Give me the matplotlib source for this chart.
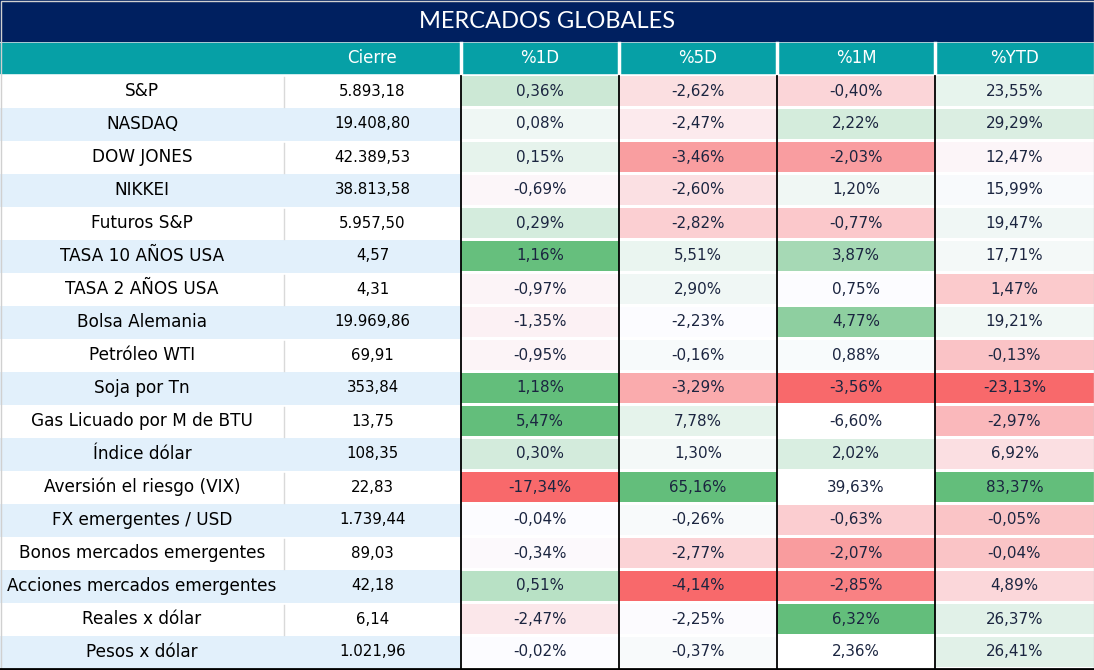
import numpy as np
import matplotlib.pyplot as plt
from matplotlib.patches import Rectangle
from matplotlib.colors import to_rgb

titulo = 'MERCADOS GLOBALES'
columnas = ['Cierre', '%1D', '%5D', '%1M', '%YTD']

nombres = ['S&P', 'NASDAQ', 'DOW JONES', 'NIKKEI', 'Futuros S&P',
           'TASA 10 AÑOS USA', 'TASA 2 AÑOS USA', 'Bolsa Alemania',
           'Petróleo WTI', 'Soja por Tn', 'Gas Licuado por M de BTU',
           'Índice dólar', 'Aversión el riesgo (VIX)', 'FX emergentes / USD',
           'Bonos mercados emergentes', 'Acciones mercados emergentes',
           'Reales x dólar', 'Pesos x dólar']
cierre = [5893.18, 19408.80, 42389.53, 38813.58, 5957.50, 4.57, 4.31,
          19969.86, 69.91, 353.84, 13.75, 108.35, 22.83, 1739.44, 89.03,
          42.18, 6.14, 1021.96]
var_1d = [0.36, 0.08, 0.15, -0.69, 0.29, 1.16, -0.97, -1.35, -0.95, 1.18,
          5.47, 0.30, -17.34, -0.04, -0.34, 0.51, -2.47, -0.02]
var_5d = [-2.62, -2.47, -3.46, -2.60, -2.82, 5.51, 2.90, -2.23, -0.16, -3.29,
          7.78, 1.30, 65.16, -0.26, -2.77, -4.14, -2.25, -0.37]
var_1m = [-0.40, 2.22, -2.03, 1.20, -0.77, 3.87, 0.75, 4.77, 0.88, -3.56,
          -6.60, 2.02, 39.63, -0.63, -2.07, -2.85, 6.32, 2.36]
var_ytd = [23.55, 29.29, 12.47, 15.99, 19.47, 17.71, 1.47, 19.21, -0.13,
           -23.13, -2.97, 6.92, 83.37, -0.05, -0.04, 4.89, 26.37, 26.41]
variaciones = [var_1d, var_5d, var_1m, var_ytd]

# filas que quedaron fuera del rango del formato condicional en cada columna
fuera_de_escala = {0: ['Gas Licuado por M de BTU'],
                   2: ['Gas Licuado por M de BTU', 'Aversión el riesgo (VIX)', 'Pesos x dólar']}
sin_color = {2: ['Gas Licuado por M de BTU', 'Aversión el riesgo (VIX)', 'Pesos x dólar']}

ROJO, BLANCO, VERDE = np.array(to_rgb('#F8696B')), np.array(to_rgb('#FCFCFF')), np.array(to_rgb('#63BE7B'))
AZUL_OSC, TEAL, CELESTE = '#002060', '#06A0A6', '#E2F0FB'


def fmt_num(v, pct=False):
    s = f'{v:,.2f}'.replace(',', 'X').replace('.', ',').replace('X', '.')
    return s + '%' if pct else s


def escala(vals, excl):
    base = [v for n, v in zip(nombres, vals) if n not in excl]
    lo, mid, hi = min(base), np.percentile(base, 50), max(base)
    cols = []
    for v in vals:
        if v >= mid:
            t = min((v - mid) / (hi - mid), 1)
            cols.append(BLANCO + t * (VERDE - BLANCO))
        else:
            t = min((mid - v) / (mid - lo), 1)
            cols.append(BLANCO + t * (ROJO - BLANCO))
    return cols


W, H = 1094, 670
fig = plt.figure(figsize=(W / 100, H / 100), dpi=100)
ax = fig.add_axes([0, 0, 1, 1])
ax.set_xlim(0, W)
ax.set_ylim(H, 0)
ax.axis('off')

FUENTE = 'DejaVu Sans'
bordes = [0, 284, 461, 619, 777, 935, W]
y_tit, h_tit = 0, 41
y_enc, h_enc = 43, 30
y0, paso = 74.5, 33

# titulo
ax.add_patch(Rectangle((0, y_tit), W, h_tit, color=AZUL_OSC))
ax.text(W / 2, y_tit + h_tit / 2 + 1, titulo, color='white', fontsize=17,
        ha='center', va='center', family='Lato')

# encabezado
ax.add_patch(Rectangle((0, y_enc), W, h_enc, color=TEAL))
for j, c in enumerate(columnas):
    xc = (bordes[j + 1] + bordes[j + 2]) / 2
    ax.text(xc, y_enc + h_enc / 2, c, color='white', fontsize=12,
            ha='center', va='center', family=FUENTE)
for x in bordes[2:-1]:
    ax.plot([x, x], [y_enc, y_enc + h_enc], color='white', lw=2.5)

# filas
colores = [escala(v, fuera_de_escala.get(j, [])) for j, v in enumerate(variaciones)]
for i, nom in enumerate(nombres):
    y = y0 + i * paso
    fondo = CELESTE if i % 2 else 'white'
    ax.add_patch(Rectangle((0, y), bordes[2], paso, color=fondo, lw=0))
    if i % 2 == 0:
        ax.plot([bordes[1], bordes[1]], [y + 2, y + paso - 1], color='#D9D9D9', lw=1)
    ax.text(bordes[1] / 2, y + paso / 2, nom, fontsize=12.2, ha='center',
            va='center', family=FUENTE, color='black')
    ax.text((bordes[1] + bordes[2]) / 2, y + paso / 2, fmt_num(cierre[i]),
            fontsize=10.8, ha='center', va='center', family=FUENTE, color='black')
    for j, vals in enumerate(variaciones):
        col = 'white' if nom in sin_color.get(j, []) else colores[j][i]
        ax.add_patch(Rectangle((bordes[j + 2], y + 1.2), bordes[j + 3] - bordes[j + 2],
                               paso - 2.4, color=col, lw=0))
        ax.text((bordes[j + 2] + bordes[j + 3]) / 2, y + paso / 2,
                fmt_num(vals[i], pct=True), fontsize=10.9, ha='center',
                va='center', family=FUENTE, color='#1B2540')

y_fin = y0 + len(nombres) * paso
for x in bordes[2:-1]:
    ax.plot([x, x], [y0 + 1, y_fin], color='black', lw=1.3)

# marco
ax.add_patch(Rectangle((0.5, 0.5), W - 1, H - 1, fill=False, ec='#D0D0D0', lw=1))
ax.plot([0, W], [y_fin + 0.5, y_fin + 0.5], color='black', lw=2)

fig.savefig('out.png', dpi=100)
